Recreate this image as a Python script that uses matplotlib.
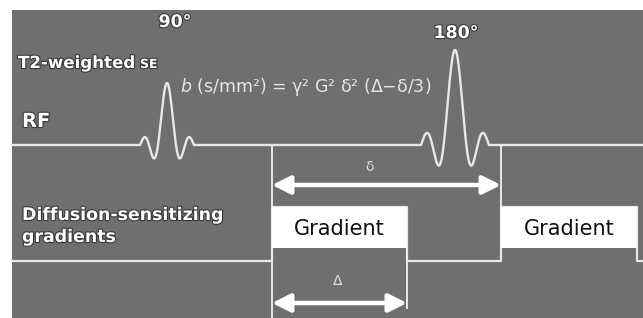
import numpy as np
import matplotlib
matplotlib.use("Agg")
import matplotlib.pyplot as plt
from matplotlib.patches import Rectangle
import matplotlib.patheffects as pe

# ---- data (pixel-space timing diagram) ----
rf_labels = ["90°", "180°"]
rf_centers = [167, 455]          # pulse centres (x)
rf_amplitudes = [62, 95]         # pulse heights above baseline
rf_halfwidths = [27, 34]         # half extent of the sinc pulse
rf_label_pos = [(175, 22), (456, 33)]
rf_baseline = 145

grad_on = [272, 501]             # gradient lobe start
grad_off = [407, 637]            # gradient lobe end
grad_labels = ["Gradient", "Gradient"]
grad_baseline = 261
grad_top = 207
grad_fill_bottom = 248

delta_small = (272, 501, 185)    # δ arrow: x0, x1, y
delta_big = (272, 407, 303)      # Δ arrow: x0, x1, y

W, H = 643, 318
BG = "#6e6f71"
LINE = "#e8e8e8"
halo = [pe.withStroke(linewidth=1.6, foreground="#3a3a3a")]

fig = plt.figure(figsize=(W / 100, H / 100), dpi=100)
fig.patch.set_facecolor("white")
ax = fig.add_axes([0, 0, 1, 1])
ax.set_xlim(0, W)
ax.set_ylim(H, 0)
ax.axis("off")

ax.add_patch(Rectangle((12, 10), W - 12, H - 10, facecolor=BG, edgecolor="none", zorder=0))

# ---- RF line with sinc pulses ----
xs = [12.0]
ys = [rf_baseline]
for c, a, hw in zip(rf_centers, rf_amplitudes, rf_halfwidths):
    t = np.linspace(-1, 1, 200)
    xs.extend(list(c + hw * t))
    ys.extend(list(rf_baseline - a * np.sinc(3 * t)))
xs.append(W)
ys.append(rf_baseline)
ax.plot(xs, ys, color=LINE, lw=1.7, solid_joinstyle="round", zorder=3)

for lab, (px, py) in zip(rf_labels, rf_label_pos):
    ax.text(px, py, lab, color="white", fontsize=12.5, fontweight="bold",
            ha="center", va="center", family="DejaVu Sans", path_effects=halo)

# ---- gradient waveform ----
gx = [12]
gy = [grad_baseline]
for on, off in zip(grad_on, grad_off):
    gx += [on, on, off, off]
    gy += [grad_baseline, grad_top, grad_top, grad_baseline]
gx.append(W)
gy.append(grad_baseline)
ax.plot(gx, gy, color=LINE, lw=1.6, zorder=3)

for on, off, lab in zip(grad_on, grad_off, grad_labels):
    ax.add_patch(Rectangle((on, grad_top), off - on, grad_fill_bottom - grad_top,
                           facecolor="white", edgecolor="none", zorder=4))
    ax.text((on + off) / 2, 235, lab, color="#111111", fontsize=15,
            ha="center", va="baseline", family="DejaVu Sans", zorder=5)

# vertical markers
ax.plot([grad_on[0], grad_on[0]], [rf_baseline, H], color=LINE, lw=1.4, zorder=3)
ax.plot([grad_on[1], grad_on[1]], [rf_baseline, grad_top], color=LINE, lw=1.4, zorder=3)
ax.plot([grad_off[0], grad_off[0]], [grad_fill_bottom, 308], color=LINE, lw=1.4, zorder=3)

# ---- arrows ----
for (x0, x1, y) in [delta_small, delta_big]:
    ax.annotate("", xy=(x1, y), xytext=(x0, y),
                arrowprops=dict(arrowstyle="<|-|>,head_length=1.1,head_width=0.55",
                                color="white", lw=3.2, shrinkA=0, shrinkB=0),
                zorder=6)
ax.text(370, 167, "δ", color="#e0e0e0", fontsize=10, ha="center", va="center")
ax.text(338, 281, "Δ", color="#e0e0e0", fontsize=10, ha="center", va="center")

# ---- labels ----
ax.text(18, 68, "T2-weighted", color="white", fontsize=12, fontweight="bold",
        ha="left", va="baseline", family="DejaVu Sans", path_effects=halo)
ax.text(140, 68, "SE", color="white", fontsize=9, fontweight="bold",
        ha="left", va="baseline", family="DejaVu Sans", path_effects=halo)
ax.text(22, 127, "RF", color="white", fontsize=14, fontweight="bold",
        ha="left", va="baseline", family="DejaVu Sans", path_effects=halo)
ax.text(22, 220, "Diffusion-sensitizing", color="white", fontsize=12.5, fontweight="bold",
        ha="left", va="baseline", family="DejaVu Sans", path_effects=halo)
ax.text(22, 242, "gradients", color="white", fontsize=12.5, fontweight="bold",
        ha="left", va="baseline", family="DejaVu Sans", path_effects=halo)

plt.rcParams["mathtext.fontset"] = "dejavusans"
ax.text(180, 92, r"$b$ (s/mm²) = γ² G² δ² (Δ−δ/3)", color="#e6e6e6", fontsize=12.5,
        ha="left", va="baseline", family="DejaVu Sans")

fig.savefig("out.png", dpi=100, facecolor=fig.get_facecolor())
